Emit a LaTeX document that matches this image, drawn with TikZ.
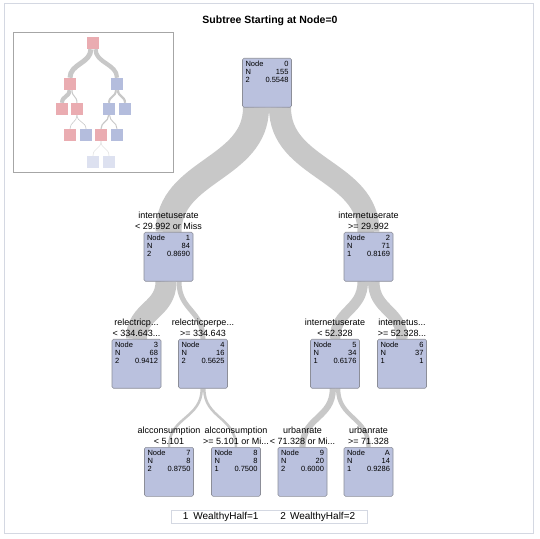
\documentclass[tikz,border=0pt]{standalone}
\usepackage{fontspec}
\setmainfont{Liberation Sans}
\usetikzlibrary{positioning, backgrounds}

\definecolor{nodefill}{RGB}{186,193,222}
\definecolor{nodeline}{RGB}{140,142,152}
\definecolor{bandgray}{RGB}{200,200,200}
\definecolor{paleband}{RGB}{226,226,226}
\definecolor{minired}{RGB}{234,172,177}
\definecolor{miniblue}{RGB}{180,189,221}
\definecolor{minipale}{RGB}{221,225,240}
\definecolor{framegray}{RGB}{212,216,226}

\newcommand{\leafstats}[4]{\parbox[t][43pt][t]{43pt}{Node\hfill#1\\N\hfill#2\\#3\hfill#4}}

\tikzset{
  treenode/.style={draw=nodeline, fill=nodefill, rounded corners=1.5pt, line width=0.6pt,
    inner xsep=3pt, inner ysep=3pt, anchor=north, font=\fontsize{7.5}{8}\selectfont},
  splitlbl/.style={align=center, inner sep=0.5pt, font=\fontsize{9}{11}\selectfont},
  band/.style={draw=bandgray, line width=#1},
  minisq/.style={minimum size=12pt, inner sep=0pt, fill=#1}
}

\begin{document}
\begin{tikzpicture}[x=1pt, y=1pt]
	\useasboundingbox (0,0) rectangle (540,538);
	\draw[framegray, line width=0.8pt] (4,5) rectangle (533,535);
	\node[font=\bfseries\fontsize{10.5}{12}\selectfont] (title) at (270,517) {Subtree Starting at Node=0};

	% overview of the whole tree
	\draw[gray!70] (13,366) rectangle (173,506);
	\node[minisq=minired] (m0) at (93,495) {};
	\node[minisq=minired] (m1) at (70,454) {};
	\node[minisq=miniblue] (m2) at (117,454) {};
	\node[minisq=minired] (m3) at (62,429) {};
	\node[minisq=minired] (m4) at (77,429) {};
	\node[minisq=miniblue] (m5) at (109,429) {};
	\node[minisq=miniblue] (m6) at (125,429) {};
	\node[minisq=minired] (m7) at (70,403) {};
	\node[minisq=miniblue] (m8) at (86,403) {};
	\node[minisq=minired] (m9) at (101,403) {};
	\node[minisq=miniblue] (mA) at (117,403) {};
	\node[minisq=minipale] (mB) at (93,376) {};
	\node[minisq=minipale] (mC) at (109,376) {};

	% subtree nodes
	\node[treenode] (n0) at (267,480) {\leafstats{0}{155}{2}{0.5548}};
	\node[treenode] (n1) at (168.5,306) {\leafstats{1}{84}{2}{0.8690}};
	\node[treenode] (n2) at (368.5,306) {\leafstats{2}{71}{1}{0.8169}};
	\node[treenode] (n3) at (136.5,199) {\leafstats{3}{68}{2}{0.9412}};
	\node[treenode] (n4) at (203,199) {\leafstats{4}{16}{2}{0.5625}};
	\node[treenode] (n5) at (335,199) {\leafstats{5}{34}{1}{0.6176}};
	\node[treenode] (n6) at (402,199) {\leafstats{6}{37}{1}{1}};
	\node[treenode] (n7) at (169,91) {\leafstats{7}{8}{2}{0.8750}};
	\node[treenode] (n8) at (236,91) {\leafstats{8}{8}{1}{0.7500}};
	\node[treenode] (n9) at (302.5,91) {\leafstats{9}{20}{2}{0.6000}};
	\node[treenode] (nA) at (368.5,91) {\leafstats{A}{14}{1}{0.9286}};

	% split rules
	\node[splitlbl, above=1.5pt of n1] (l1) {internetuserate\\< 29.992 or Miss};
	\node[splitlbl, above=1.5pt of n2] (l2) {internetuserate\\>= 29.992};
	\node[splitlbl, above=1.5pt of n3] (l3) {relectricp...\\< 334.643...};
	\node[splitlbl, above=1.5pt of n4] (l4) {relectricperpe...\\>= 334.643};
	\node[splitlbl, above=1.5pt of n5] (l5) {internetuserate\\< 52.328};
	\node[splitlbl, above=1.5pt of n6] (l6) {internetus...\\>= 52.328...};
	\node[splitlbl, above=1.5pt of n7] (l7) {alcconsumption\\< 5.101};
	\node[splitlbl, above=1.5pt of n8] (l8) {alcconsumption\\>= 5.101 or Mi...};
	\node[splitlbl, above=1.5pt of n9] (l9) {urbanrate\\< 71.328 or Mi...};
	\node[splitlbl, above=1.5pt of nA] (lA) {urbanrate\\>= 71.328};

	\begin{scope}[on background layer]
		\draw[band=26] ([xshift=-11pt]n0.south) .. controls +(0,-62) and +(0,62) .. (n1.north);
		\draw[band=22] ([xshift=13pt]n0.south) .. controls +(0,-62) and +(0,62) .. (n2.north);
		\draw[band=21] ([xshift=-2.5pt]n1.south) .. controls +(0,-29) and +(0,29) .. (n3.north);
		\draw[band=5] ([xshift=10.5pt]n1.south) .. controls +(0,-29) and +(0,29) .. (n4.north);
		\draw[band=10.5] ([xshift=-5.75pt]n2.south) .. controls +(0,-29) and +(0,29) .. (n5.north);
		\draw[band=11.5] ([xshift=5.25pt]n2.south) .. controls +(0,-29) and +(0,29) .. (n6.north);
		\draw[band=2.5] ([xshift=-1.25pt]n4.south) .. controls +(0,-30) and +(0,30) .. (n7.north);
		\draw[band=2.5] ([xshift=1.25pt]n4.south) .. controls +(0,-30) and +(0,30) .. (n8.north);
		\draw[band=6.2] ([xshift=-2.15pt]n5.south) .. controls +(0,-30) and +(0,30) .. (n9.north);
		\draw[band=4.3] ([xshift=3.1pt]n5.south) .. controls +(0,-30) and +(0,30) .. (nA.north);

		\draw[band=5] ([xshift=-2.15pt]m0.south) .. controls +(0,-14) and +(0,14) .. (m1.north);
		\draw[band=4.3] ([xshift=2.5pt]m0.south) .. controls +(0,-14) and +(0,14) .. (m2.north);
		\draw[band=4.1] ([xshift=-0.5pt]m1.south) .. controls +(0,-7) and +(0,7) .. (m3.north);
		\draw[band=1] ([xshift=2pt]m1.south) .. controls +(0,-7) and +(0,7) .. (m4.north);
		\draw[band=2] ([xshift=-1.1pt]m2.south) .. controls +(0,-7) and +(0,7) .. (m5.north);
		\draw[band=2.2] ([xshift=1pt]m2.south) .. controls +(0,-7) and +(0,7) .. (m6.north);
		\draw[band=0.6] (m4.south) .. controls +(0,-7) and +(0,7) .. (m7.north);
		\draw[band=0.6] (m4.south) .. controls +(0,-7) and +(0,7) .. (m8.north);
		\draw[band=1.2] ([xshift=-0.4pt]m5.south) .. controls +(0,-7) and +(0,7) .. (m9.north);
		\draw[band=0.9] ([xshift=0.6pt]m5.south) .. controls +(0,-7) and +(0,7) .. (mA.north);
		\draw[band=0.6, paleband] (m9.south) .. controls +(0,-8) and +(0,8) .. (mB.north);
		\draw[band=0.6, paleband] (m9.south) .. controls +(0,-8) and +(0,8) .. (mC.north);
	\end{scope}

	% legend
	\node[draw=framegray, minimum width=196pt, minimum height=13pt, inner sep=0pt,
		font=\fontsize{10}{12}\selectfont] (legend) at (269,21.5)
		{1\hspace{5pt}WealthyHalf=1\hspace{22pt}2\hspace{4pt}WealthyHalf=2};
\end{tikzpicture}
\end{document}
